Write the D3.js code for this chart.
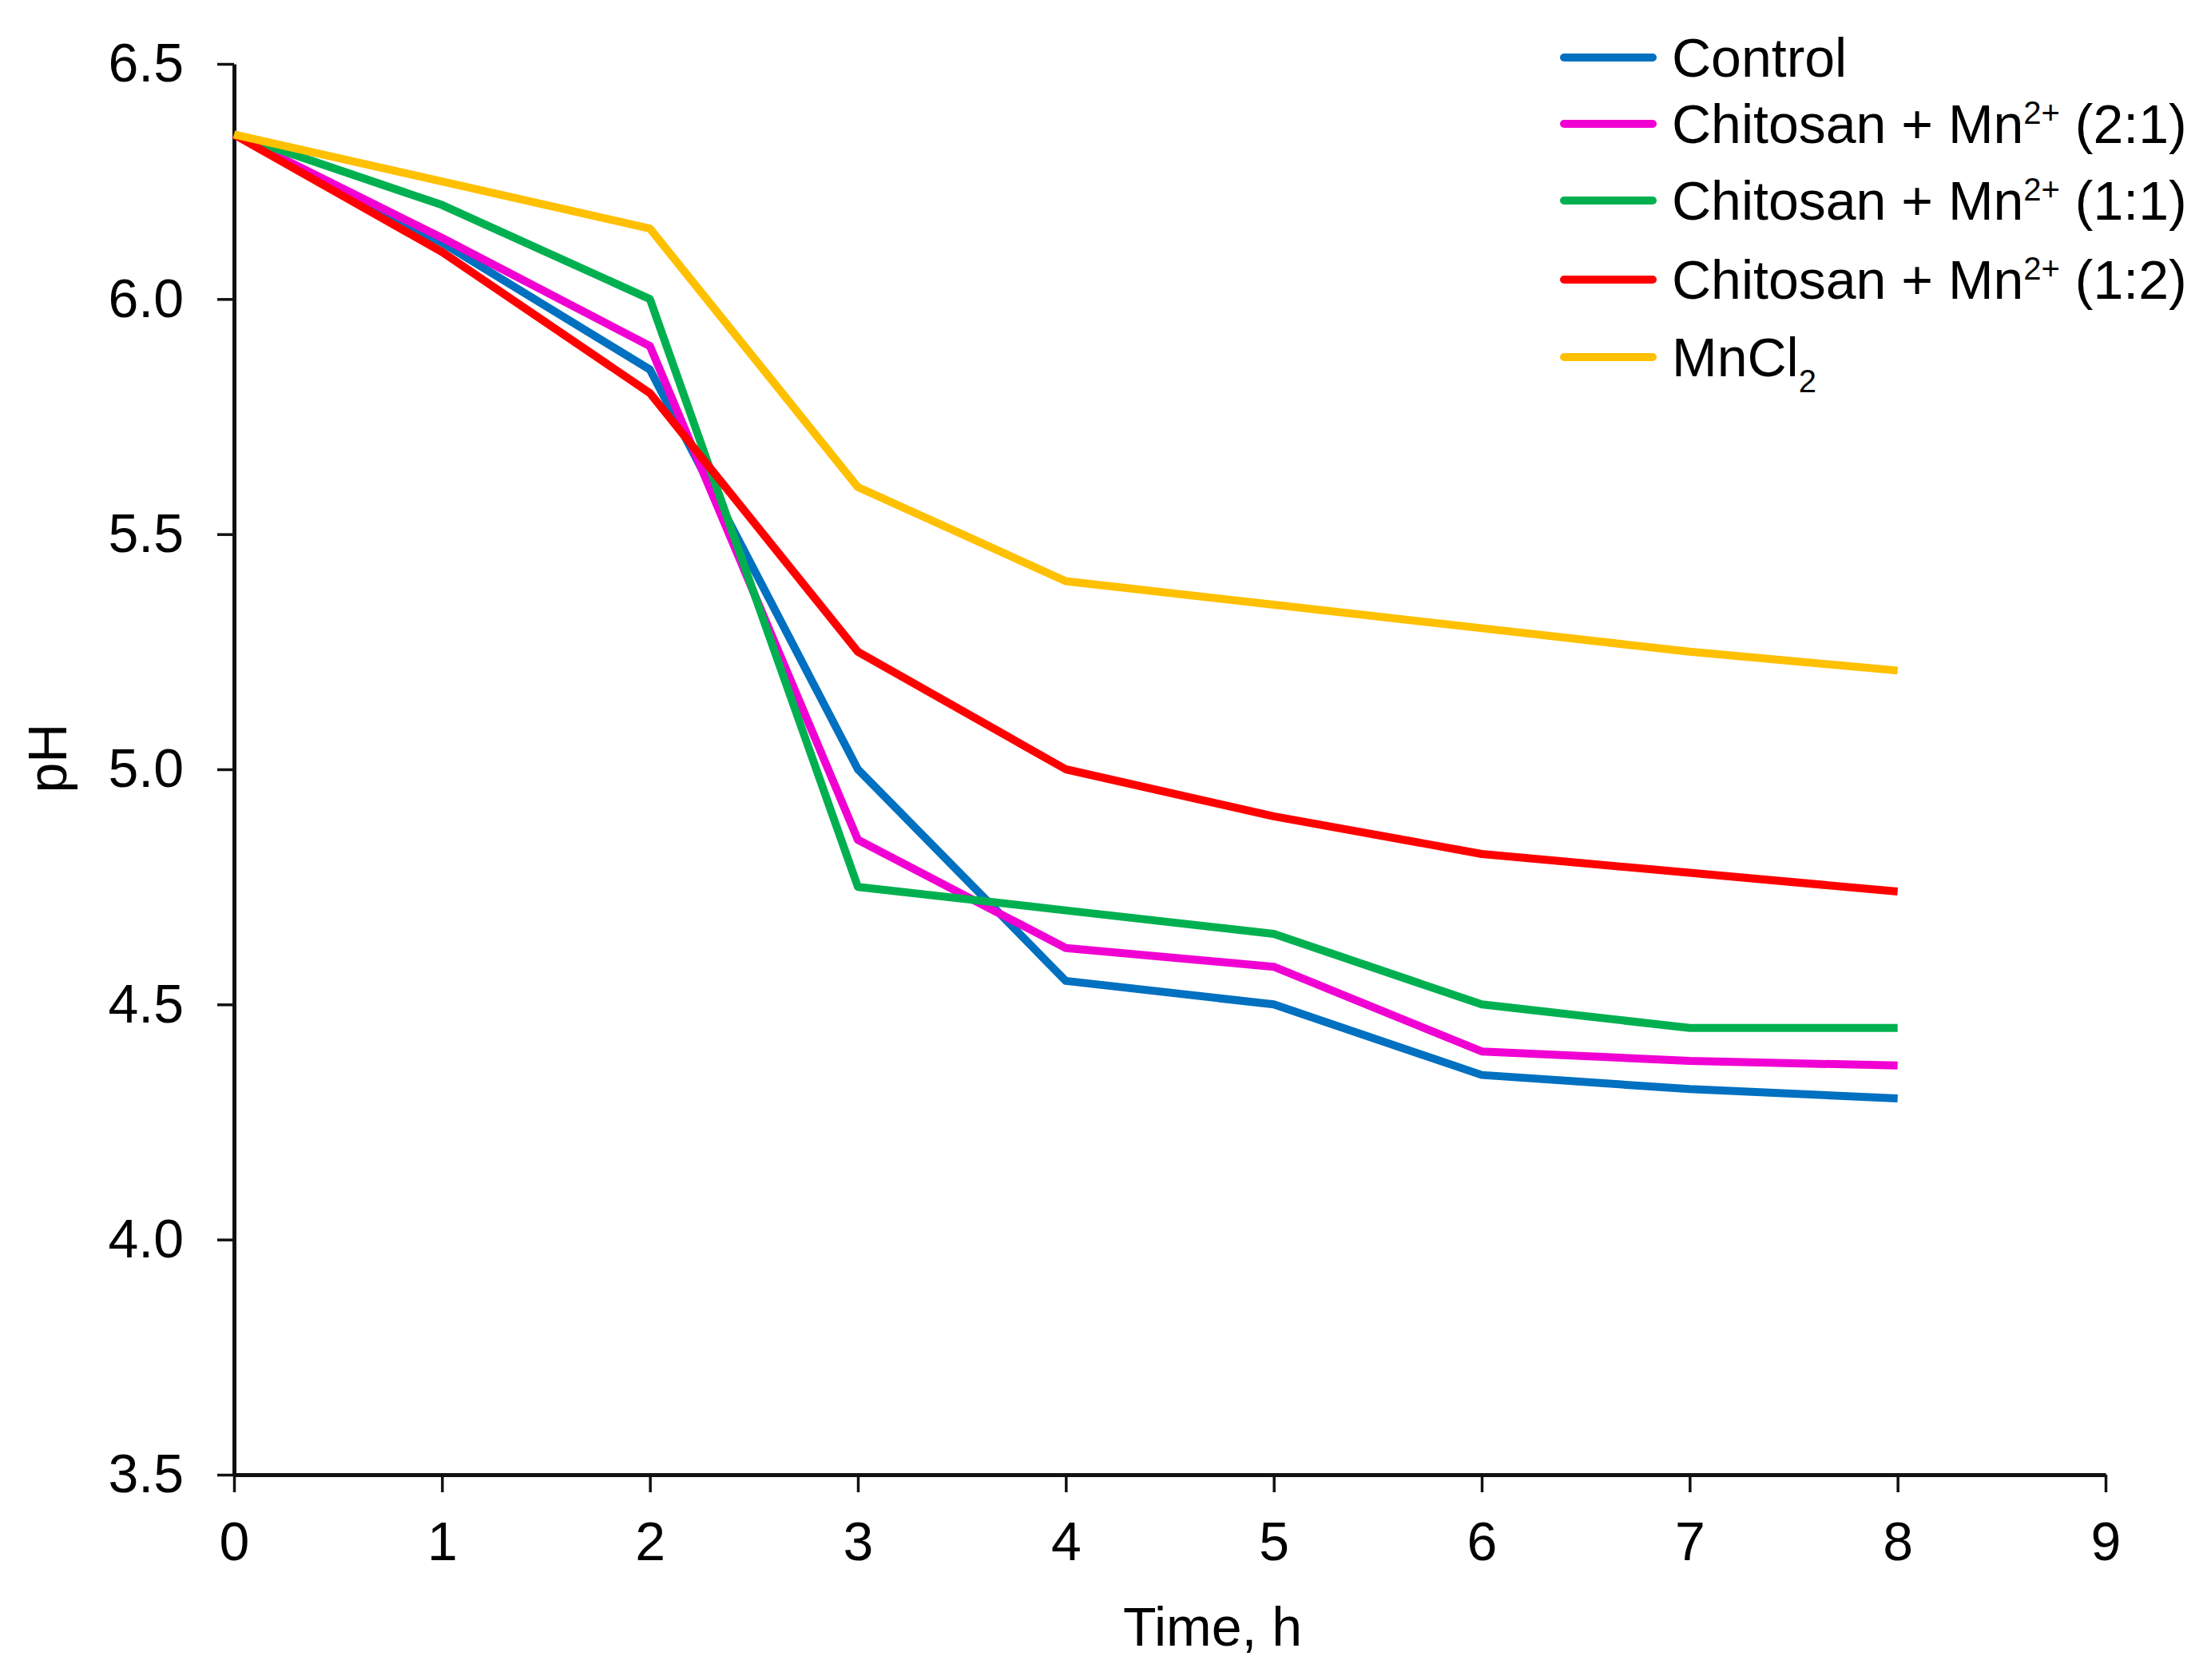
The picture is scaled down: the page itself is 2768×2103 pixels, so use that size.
<!DOCTYPE html>
<html>
<head>
<meta charset="utf-8">
<script src="https://cdn.jsdelivr.net/npm/d3@7"></script>
<style>
  body { margin: 0; background: #fff; }
  text { font-family: "Liberation Sans", Arial, sans-serif; fill: #000; }
</style>
</head>
<body>
<svg id="chart" width="2768" height="2103"></svg>
<script>
// Time points (h)
const hours = [0, 1, 2, 3, 4, 5, 6, 7, 8];

// pH values
const control   = [6.35, 6.12, 5.85, 5.00, 4.55, 4.50, 4.35, 4.32, 4.30];
const chitoMn21 = [6.35, 6.13, 5.90, 4.85, 4.62, 4.58, 4.40, 4.38, 4.37];
const chitoMn11 = [6.35, 6.20, 6.00, 4.75, 4.70, 4.65, 4.50, 4.45, 4.45];
const chitoMn12 = [6.35, 6.10, 5.80, 5.25, 5.00, 4.90, 4.82, 4.78, 4.74];
const mnCl2     = [6.35, 6.25, 6.15, 5.60, 5.40, 5.35, 5.30, 5.25, 5.21];

// legend names (^{} = superscript, _{} = subscript)
const seriesNames = [
  "Control",
  "Chitosan + Mn^{2+} (2:1)",
  "Chitosan + Mn^{2+} (1:1)",
  "Chitosan + Mn^{2+} (1:2)",
  "MnCl_{2}"
];
const seriesColors = ["#0070C0", "#F000D2", "#00B050", "#FF0000", "#FFC000"];
const seriesValues = [control, chitoMn21, chitoMn11, chitoMn12, mnCl2];

const xTicks = [0, 1, 2, 3, 4, 5, 6, 7, 8, 9];
const yTicks = [3.5, 4.0, 4.5, 5.0, 5.5, 6.0, 6.5];

const svg = d3.select("#chart");
svg.append("rect").attr("width", 2768).attr("height", 2103).attr("fill", "#fff");

const x = d3.scaleLinear().domain([0, 9]).range([293, 2636]);
const y = d3.scaleLinear().domain([3.5, 6.5]).range([1846, 80]);

const FONT = 68;

// y axis
const yAxis = svg.append("g")
  .attr("transform", `translate(${x(0)},0)`)
  .call(d3.axisLeft(y).tickValues(yTicks).tickFormat(d3.format(".1f"))
    .tickSize(21).tickSizeOuter(0).tickPadding(42));

// x axis
const xAxis = svg.append("g")
  .attr("transform", `translate(0,${y(3.5)})`)
  .call(d3.axisBottom(x).tickValues(xTicks).tickFormat(d3.format("d"))
    .tickSize(22).tickSizeOuter(0).tickPadding(37));

[yAxis, xAxis].forEach(g => {
  g.select(".domain").attr("stroke", "#111").attr("stroke-width", 5);
  g.selectAll(".tick line").attr("stroke", "#111").attr("stroke-width", 3.5);
  g.selectAll(".tick text").attr("font-size", FONT).attr("fill", "#000")
    .style("font-family", "'Liberation Sans', Arial, sans-serif");
});

// axis titles
svg.append("text")
  .attr("x", 1518).attr("y", 2060)
  .attr("text-anchor", "middle")
  .attr("font-size", FONT)
  .text("Time, h");

svg.append("text")
  .attr("transform", "translate(83,949) rotate(-90)")
  .attr("text-anchor", "middle")
  .attr("font-size", FONT)
  .text("pH");

// series lines
const line = d3.line()
  .x((d, i) => x(hours[i]))
  .y(d => y(d));

svg.append("g")
  .selectAll("path")
  .data(seriesValues)
  .enter()
  .append("path")
  .attr("fill", "none")
  .attr("stroke", (d, i) => seriesColors[i])
  .attr("stroke-width", 10)
  .attr("stroke-linejoin", "round")
  .attr("d", line);

// legend
const legendY = [72, 155, 251, 350, 447];
const legend = svg.append("g");

seriesNames.forEach((name, i) => {
  legend.append("line")
    .attr("x1", 1958).attr("x2", 2069)
    .attr("y1", legendY[i]).attr("y2", legendY[i])
    .attr("stroke", seriesColors[i])
    .attr("stroke-width", 10)
    .attr("stroke-linecap", "round");

  const t = legend.append("text")
    .attr("x", 2093)
    .attr("y", legendY[i] + 24)
    .attr("font-size", FONT);

  // split label into plain / superscript / subscript pieces
  const parts = name.split(/(\^\{[^}]*\}|_\{[^}]*\})/).filter(s => s !== "");
  let shift = 0;
  parts.forEach(p => {
    let dy = 0, size = FONT, txt = p;
    if (p.startsWith("^{")) { txt = p.slice(2, -1); dy = -24; size = 40; }
    else if (p.startsWith("_{")) { txt = p.slice(2, -1); dy = 20; size = 40; }
    t.append("tspan")
      .attr("dy", dy - shift)
      .attr("font-size", size)
      .text(txt);
    shift = dy;
  });
});
</script>
</body>
</html>
